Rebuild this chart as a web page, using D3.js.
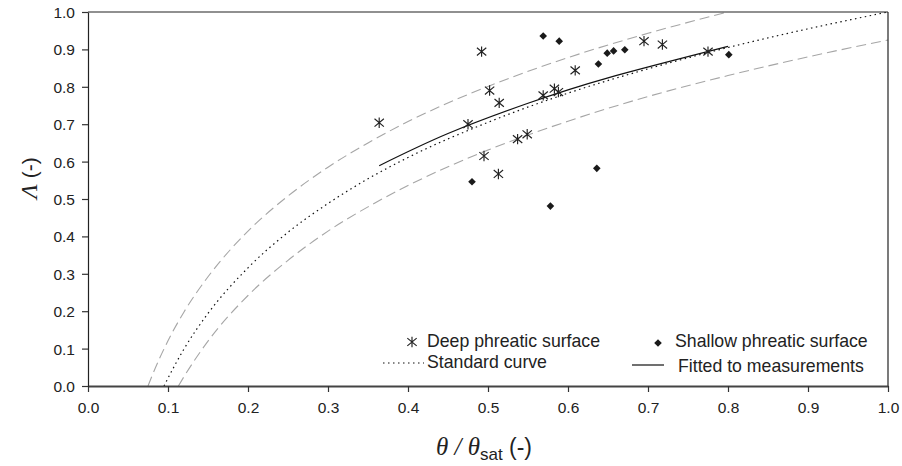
<!DOCTYPE html>
<html><head><meta charset="utf-8">
<script src="https://cdn.jsdelivr.net/npm/d3@7"></script>
<style>body{margin:0;background:#fff}svg{display:block}</style>
</head><body><svg id="c" width="902" height="466"></svg>
<script>
// ---- data ----
const xTicks = [0,0.1,0.2,0.3,0.4,0.5,0.6,0.7,0.8,0.9,1.0];
const yTicks = [0,0.1,0.2,0.3,0.4,0.5,0.6,0.7,0.8,0.9,1.0];
const deepX = [0.364,0.475,0.492,0.495,0.502,0.513,0.514,0.537,0.549,0.569,0.583,0.588,0.609,0.695,0.718,0.775];
const deepY = [0.704,0.700,0.894,0.615,0.790,0.567,0.757,0.660,0.673,0.777,0.795,0.786,0.844,0.922,0.913,0.894];
const shallowX = [0.480,0.569,0.578,0.589,0.636,0.638,0.649,0.657,0.671,0.801];
const shallowY = [0.546,0.936,0.481,0.922,0.582,0.861,0.890,0.896,0.899,0.886];
const stdX = [0.095,0.10,0.12,0.15,0.20,0.25,0.30,0.35,0.40,0.50,0.60,0.70,0.80,0.90,1.00];
const stdY = [0.0,0.021,0.099,0.194,0.316,0.411,0.488,0.554,0.611,0.705,0.783,0.848,0.905,0.955,1.0];
const upX = [0.075,0.08,0.10,0.12,0.15,0.20,0.25,0.30,0.35,0.40,0.50,0.60,0.70,0.80];
const upY = [0.0,0.027,0.121,0.198,0.292,0.414,0.508,0.585,0.650,0.707,0.801,0.878,0.943,1.0];
const loX = [0.113,0.12,0.15,0.20,0.25,0.30,0.35,0.40,0.50,0.60,0.70,0.80,0.90,1.00];
const loY = [0.0,0.025,0.12,0.242,0.336,0.414,0.479,0.536,0.631,0.708,0.774,0.830,0.880,0.925];
const fitX = [0.364,0.45,0.55,0.65,0.80];
const fitY = [0.589,0.675,0.756,0.824,0.908];

// ---- layout ----
const svg = d3.select("#c");
const L = 88, R = 888, T = 12, B = 386;
const x = d3.scaleLinear().domain([0,1]).range([L,R]);
const y = d3.scaleLinear().domain([0,1]).range([B,T]);
const sans = "'Liberation Sans', Arial, sans-serif";
const serif = "'Liberation Serif', 'Times New Roman', serif";

svg.append("defs").append("clipPath").attr("id","pc")
  .append("rect").attr("x",L).attr("y",T).attr("width",R-L).attr("height",B-T);

const line = d3.line().x(d=>x(d[0])).y(d=>y(d[1])).curve(d3.curveMonotoneX);
const smooth = d3.line().x(d=>x(d[0])).y(d=>y(d[1])).curve(d3.curveNatural);
const zip = (a,b)=>a.map((v,i)=>[v,b[i]]);
const g = svg.append("g").attr("clip-path","url(#pc)");

g.append("path").attr("d",line(zip(upX,upY))).attr("fill","none")
  .attr("stroke","#a6a6a6").attr("stroke-width",1.1).attr("stroke-dasharray","10,5");
g.append("path").attr("d",line(zip(loX,loY))).attr("fill","none")
  .attr("stroke","#a6a6a6").attr("stroke-width",1.1).attr("stroke-dasharray","10,5");
g.append("path").attr("d",line(zip(stdX,stdY))).attr("fill","none")
  .attr("stroke","#111").attr("stroke-width",1.2).attr("stroke-dasharray","1.5,3.5");
g.append("path").attr("d",smooth(zip(fitX,fitY))).attr("fill","none")
  .attr("stroke","#111").attr("stroke-width",1.2);

// markers
const ast = s => `M0,${-s}V${s}M${-s*0.9},${-s*0.75}L${s*0.9},${s*0.75}M${-s*0.9},${s*0.75}L${s*0.9},${-s*0.75}`;
const dia = s => `M0,${-s}L${s},0L0,${s}L${-s},0Z`;
svg.append("g").selectAll("path").data(zip(deepX,deepY)).join("path")
  .attr("transform",d=>`translate(${x(d[0])},${y(d[1])})`)
  .attr("d",ast(5.2)).attr("stroke","#222").attr("stroke-width",1.15).attr("fill","none");
svg.append("g").selectAll("path").data(zip(shallowX,shallowY)).join("path")
  .attr("transform",d=>`translate(${x(d[0])},${y(d[1])})`)
  .attr("d",dia(3.8)).attr("fill","#1a1a1a");

// frame
svg.append("line").attr("x1",L).attr("x2",R).attr("y1",T).attr("y2",T).attr("stroke","#222").attr("stroke-width",1.2);
svg.append("line").attr("x1",R).attr("x2",R).attr("y1",T).attr("y2",B).attr("stroke","#222").attr("stroke-width",1.2);

// axes
const xa = svg.append("g").attr("transform",`translate(0,${B})`)
  .call(d3.axisBottom(x).tickValues(xTicks).tickFormat(d3.format(".1f")).tickSize(6).tickSizeOuter(0));
const ya = svg.append("g").attr("transform",`translate(${L},0)`)
  .call(d3.axisLeft(y).tickValues(yTicks).tickFormat(d3.format(".1f")).tickSize(6).tickSizeOuter(0));
xa.select(".domain").attr("stroke","#444").attr("stroke-width",2);
ya.select(".domain").attr("stroke","#222").attr("stroke-width",1.2);
[xa,ya].forEach(a=>{
  a.selectAll(".tick line").attr("stroke","#333").attr("stroke-width",1.2);
  a.selectAll("text").attr("font-family",sans).attr("font-size",15.5).attr("fill","#222");
});
xa.selectAll("text").attr("dy","1.15em");
ya.selectAll("text").attr("x",-13).attr("dy","0.36em");

// axis titles
const xt = svg.append("text").attr("x",484).attr("y",455).attr("text-anchor","middle").attr("fill","#222");
xt.append("tspan").attr("font-family",serif).attr("font-style","italic").attr("font-size",25).text("θ");
xt.append("tspan").attr("font-family",serif).attr("font-style","italic").attr("font-size",25).text(" / ");
xt.append("tspan").attr("font-family",serif).attr("font-style","italic").attr("font-size",25).text("θ");
xt.append("tspan").attr("font-family",sans).attr("font-size",17).attr("dy",5).text("sat");
xt.append("tspan").attr("font-family",sans).attr("font-size",23).attr("dy",-5).text(" (-)");

const yt = svg.append("text").attr("transform","translate(37,178) rotate(-90)").attr("text-anchor","middle").attr("fill","#222");
yt.append("tspan").attr("font-family",serif).attr("font-style","italic").attr("font-size",24).text("Λ");
yt.append("tspan").attr("font-family",sans).attr("font-size",21).text(" (-)");

// legend
const lg = svg.append("g").attr("font-family",sans).attr("font-size",17.7).attr("fill","#222");
lg.append("path").attr("transform","translate(412,342)").attr("d",ast(5.2)).attr("stroke","#222").attr("stroke-width",1.15).attr("fill","none");
lg.append("text").attr("x",427).attr("y",347).text("Deep phreatic surface");
lg.append("line").attr("x1",383).attr("x2",424).attr("y1",363).attr("y2",363).attr("stroke","#111").attr("stroke-width",1.2).attr("stroke-dasharray","1.5,3.5");
lg.append("text").attr("x",427).attr("y",368).text("Standard curve");
lg.append("path").attr("transform","translate(658,343)").attr("d",dia(3.8)).attr("fill","#1a1a1a");
lg.append("text").attr("x",675).attr("y",347).text("Shallow phreatic surface");
lg.append("line").attr("x1",632).attr("x2",664).attr("y1",365).attr("y2",365).attr("stroke","#111").attr("stroke-width",1.2);
lg.append("text").attr("x",678).attr("y",372).text("Fitted to measurements");
</script></body></html>
